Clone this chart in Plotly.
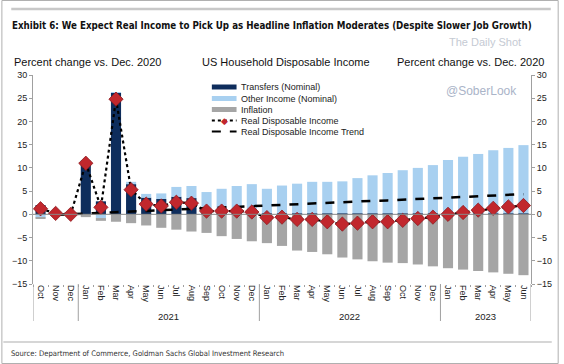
import plotly.graph_objects as go

months = ["Oct", "Nov", "Dec",
          "Jan", "Feb", "Mar", "Apr", "May", "Jun", "Jul", "Aug", "Sep", "Oct", "Nov", "Dec",
          "Jan", "Feb", "Mar", "Apr", "May", "Jun", "Jul", "Aug", "Sep", "Oct", "Nov", "Dec",
          "Jan", "Feb", "Mar", "Apr", "May", "Jun"]
years = ["2021", "2022", "2023"]
year_centers = [8.5, 20.5, 29.5]
year_breaks = [2.5, 14.5, 26.5]

transfers = [2.0, 0.2, 0.0,
             11.3, 2.8, 26.2, 6.5, 3.6, 3.3, 3.8, 3.5, 0.3, 0.3, 0.3, 0.3,
             0.2, 0.2, 0.2, 0.2, 0.2, 0.2, 0.2, 0.2, 0.2, 0.2, 0.2, 0.2,
             0.2, 0.2, 0.2, 0.2, 0.2, 0.2]
other_income = [-0.7, -0.1, 0.0,
                0.2, -0.8, 0.1, 0.5, 0.8, 1.2, 2.1, 2.6, 4.5, 5.2, 5.8, 6.2,
                5.3, 6.0, 6.4, 6.8, 6.8, 6.9, 7.6, 8.2, 8.7, 9.3, 9.8, 10.4,
                11.5, 12.2, 12.8, 13.6, 14.1, 14.7]
inflation = [-0.1, 0.0, 0.0,
             -0.6, -0.6, -1.6, -1.9, -2.4, -2.9, -3.3, -3.7, -4.0, -4.7, -5.3, -5.8,
             -6.2, -6.8, -7.8, -8.1, -8.6, -9.3, -9.7, -10.1, -10.4, -10.5, -10.8, -11.2,
             -11.6, -11.9, -12.2, -12.5, -12.8, -13.1]
real_di = [1.2, 0.2, 0.0,
           11.0, 1.5, 24.8, 5.3, 2.2, 1.8, 2.6, 2.4, 0.7, 0.7, 0.7, 0.5,
           -0.7, -0.6, -1.1, -1.1, -1.6, -2.1, -1.9, -1.6, -1.6, -1.3, -0.9, -0.6,
           0.0, 0.4, 0.9, 1.3, 1.6, 1.9]
real_di_trend = [None, -0.1, 0.0,
                 0.15, 0.3, 0.45, 0.6, 0.75, 0.9, 1.05, 1.2, 1.35, 1.5, 1.65, 1.8,
                 1.95, 2.1, 2.25, 2.4, 2.5, 2.6, 2.75, 2.9, 3.0, 3.15, 3.3, 3.45,
                 3.6, 3.75, 3.9, 4.05, 4.2, 4.35]
y_ticks = [30, 25, 20, 15, 10, 5, 0, -5, -10, -15]

x = list(range(len(months)))

NAVY = "#0E2D5C"
LIGHT = "#A8D0F0"
GRAY = "#A5A5A5"
RED = "#C1272D"
FONT = "Liberation Sans, Arial, sans-serif"
COND = "DejaVu Sans Condensed, Liberation Sans, sans-serif"

# plot area in pixels: x 32..536, y 75..284
L, R, T, B = 32, 536, 75, 284
W, H = R - L, B - T


def px(xp):
    return (xp - L) / W


def py(yp):
    return (B - yp) / H


fig = go.Figure()
fig.add_trace(go.Bar(x=x, y=transfers, name="Transfers (Nominal)", marker_color=NAVY,
                     marker_line_width=0))
fig.add_trace(go.Bar(x=x, y=other_income, name="Other Income (Nominal)", marker_color=LIGHT,
                     marker_line_width=0))
fig.add_trace(go.Bar(x=x, y=inflation, name="Inflation", marker_color=GRAY,
                     marker_line_width=0))
fig.add_trace(go.Scatter(x=x, y=real_di_trend, name="Real Disposable Income Trend", mode="lines",
                         line=dict(color="black", width=2.5, dash="dash"), yaxis="y2"))
fig.add_trace(go.Scatter(x=x, y=real_di, name="Real Disposable Income", mode="lines+markers",
                         line=dict(color="black", width=2.2, dash="dot"),
                         marker=dict(symbol="diamond", size=11, color=RED,
                                     line=dict(color="#8E1B1F", width=0.8)),
                         yaxis="y2"))

shapes = []
annotations = []


def note(text, xp, yp, size, color="#222", family=FONT, xanchor="center"):
    annotations.append(dict(text=text, x=px(xp), y=py(yp), xref="paper", yref="paper",
                            xanchor=xanchor, yanchor="middle", showarrow=False,
                            font=dict(size=size, color=color, family=family)))


# outer frame and separator lines
shapes.append(dict(type="rect", xref="paper", yref="paper", x0=px(0.5), x1=px(563.5),
                   y0=py(0.5), y1=py(363.5), line=dict(color="#B0B0B0", width=1)))
shapes.append(dict(type="line", xref="paper", yref="paper", x0=px(10), x1=px(556),
                   y0=py(9), y1=py(9), line=dict(color="#C8C8C8", width=2.5)))
shapes.append(dict(type="line", xref="paper", yref="paper", x0=px(2), x1=px(557),
                   y0=py(342), y1=py(342), line=dict(color="#C8C8C8", width=1.5)))

# year separators and axis extensions below the plot
for xb in year_breaks:
    shapes.append(dict(type="line", xref="x", yref="paper", x0=xb, x1=xb, y0=0, y1=py(321),
                       line=dict(color="#A0A0A0", width=1)))
for xe in [-0.5, len(months) - 0.5]:
    shapes.append(dict(type="line", xref="x", yref="paper", x0=xe, x1=xe, y0=0, y1=py(321),
                       line=dict(color="#A0A0A0", width=1)))
for yr, xc in zip(years, year_centers):
    annotations.append(dict(text=yr, x=xc, xref="x", y=py(316), yref="paper", showarrow=False,
                            xanchor="center", yanchor="middle",
                            font=dict(size=9.5, color="#222", family=FONT)))

# titles
note("<b>Exhibit 6: We Expect Real Income to Pick Up as Headline Inflation Moderates (Despite Slower Job Growth)</b>",
     9, 25, 9.7, "#111", COND, "left")
note("Percent change vs. Dec. 2020", 87, 62, 11, "#111")
note("US Household Disposable Income", 288, 62, 11, "#111")
note("Percent change vs. Dec. 2020", 475, 62, 11, "#111")
note("Source: Department of Commerce, Goldman Sachs Global Investment Research", 8, 353, 7.6,
     "#333", COND, "left")
# watermarks
note("The Daily Shot", 489, 42, 11, "#C5CAD3")
note("@SoberLook", 486, 91, 12, "#AAB4C8")

# manual legend
leg_rows = [87, 98.5, 109.5, 120.5, 131.5]
leg_names = ["Transfers (Nominal)", "Other Income (Nominal)", "Inflation",
             "Real Disposable Income", "Real Disposable Income Trend"]
for i, (yy, nm) in enumerate(zip(leg_rows, leg_names)):
    if i < 3:
        col = [NAVY, LIGHT, GRAY][i]
        shapes.append(dict(type="rect", xref="paper", yref="paper", x0=px(213), x1=px(238),
                           y0=py(yy - 2.5), y1=py(yy + 2.5), line=dict(width=0), fillcolor=col))
    elif i == 3:
        shapes.append(dict(type="line", xref="paper", yref="paper", x0=px(213), x1=px(238),
                           y0=py(yy), y1=py(yy), line=dict(color="black", width=2, dash="dot")))
        note("◆", 225.5, yy, 9, RED, "DejaVu Sans")
    else:
        shapes.append(dict(type="line", xref="paper", yref="paper", x0=px(213), x1=px(238),
                           y0=py(yy), y1=py(yy), line=dict(color="black", width=2, dash="dash")))
    note(nm, 240, yy, 9, "#222", FONT, "left")

yax = dict(range=[-15, 30], tickvals=y_ticks, showgrid=False, zeroline=False,
           showline=True, linecolor="#A0A0A0", linewidth=1, ticks="outside", ticklen=3,
           tickcolor="#A0A0A0", tickfont=dict(size=9, color="#222", family=FONT))

fig.update_layout(
    width=564, height=364,
    margin=dict(l=L, r=564 - R, t=T, b=364 - B, pad=0),
    paper_bgcolor="white", plot_bgcolor="white",
    barmode="relative", bargap=0.33,
    showlegend=False,
    xaxis=dict(range=[-0.5, len(months) - 0.5], tickvals=x, ticktext=months, tickangle=90,
               showgrid=False, zeroline=False, showline=False, ticks="",
               tickfont=dict(size=9, color="#222", family=FONT),
               minor=dict(tick0=-0.5, dtick=1, ticks="outside", ticklen=2, tickcolor="#A0A0A0")),
    yaxis=dict(**yax, side="left"),
    yaxis2=dict(**yax, side="right", overlaying="y"),
    shapes=shapes + [dict(type="line", xref="x", yref="y", x0=-0.5, x1=len(months) - 0.5,
                          y0=0, y1=0, line=dict(color="#888", width=1), layer="above")],
    annotations=annotations,
)

fig.write_html("out.html", config={"displayModeBar": False},
               post_script="document.body.style.margin='0';document.body.style.overflow='hidden';")
